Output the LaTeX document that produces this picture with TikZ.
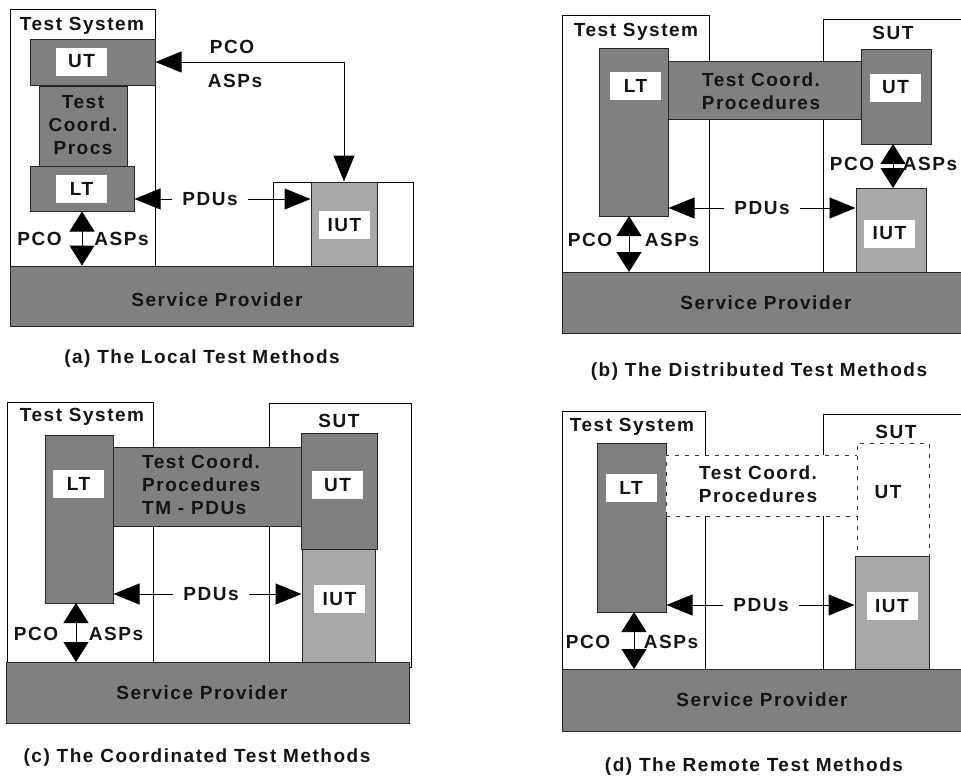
\documentclass[tikz,border=0pt]{standalone}
\usepackage{fontspec}
\setmainfont{Liberation Sans}[LetterSpace=8]
\usetikzlibrary{arrows.meta,fit,calc}
\definecolor{dkg}{HTML}{808080}
\definecolor{ltg}{HTML}{A8A8A8}
\begin{document}
\begin{tikzpicture}[x=1pt,y=-1pt,
 every node/.style={font=\fontsize{19pt}{23pt}\selectfont\bfseries, text=black!92},
 frame/.style={draw=black, line width=1pt, fill=white, inner sep=0pt},
 dk/.style={draw=black!85, line width=1pt, fill=dkg, inner sep=0pt},
 lgt/.style={draw=black!85, line width=1pt, fill=ltg, inner sep=0pt},
 dsh/.style={draw=black!80, line width=1pt, dash pattern=on 4pt off 6pt, fill=white, inner sep=0pt},
 tag/.style={fill=white, minimum width=51pt, minimum height=28pt, inner sep=0pt},
 txt/.style={inner sep=0pt},
 pdu/.style={inner xsep=10pt, inner ysep=0pt},
 tri/.style={line width=1pt, -{Triangle[length=26pt,width=21pt]}},
 tritwo/.style={line width=1pt, {Triangle[length=26pt,width=21pt]}-{Triangle[length=26pt,width=21pt]}},
 pco/.style={line width=1pt, {Triangle[length=20pt,width=25pt]}-{Triangle[length=20pt,width=25pt]}},
]
\useasboundingbox (0,0) rectangle (961,779);
\clip (0,0) rectangle (961,779);

% ================= (a) =================
\node[frame, fit={(10,9) (155,266)}] (tsa) {};
\node[frame, fit={(273,182) (413,266)}] (suta) {};
\node[dk, fit={(30,39) (155,85)}] (uta) {};
\node[dk, fit={(39,86) (127,166)}] (tcpa) {};
\node[dk, fit={(30,166) (134,211)}] (lta) {};
\node[lgt, fit={(311,182) (377,266)}] (iuta) {};
\node[dk, fit={(10,266) (413,326)}] (spa) {};
\node[txt] (tsat) at (82,26) {Test System};
\node[tag] (utat) at (81.5,61.5) {UT};
\node[txt, align=center] (tcpat) at (83,125) {Test\\Coord.\\Procs};
\node[tag] (ltat) at (81.5,188.5) {LT};
\node[tag] (iutat) at (344.5,225) {IUT};
\node[txt] (spat) at (217,300) {Service Provider};
\node[txt] (pcoa1) at (39.5,239) {PCO};
\node[txt] (aspa1) at (121.5,239) {ASPs};
\node[txt] (pcoa2) at (232,47) {PCO};
\node[txt] (aspa2) at (235,81) {ASPs};
\node[pdu] (pdua) at (210,199) {PDUs};
\draw[tri] (pdua.west) -- (pdua.west -| lta.east);
\draw[tri] (pdua.east) -- (pdua.east -| iuta.west);
\draw[tritwo] (uta.east) -| (iuta.north);
\draw[pco] (lta.south) -- (lta.south |- spa.north);
\node[txt] (capa) at (202,359) {(a) The Local Test Methods};

% ================= (b) =================
\node[frame, fit={(562,15) (709,272)}] (tsb) {};
\node[frame, fit={(823,19) (975,272)}] (sutb) {};
\node[dk, fit={(599,48) (668,216)}] (ltb) {};
\node[dk, fit={(668,61) (861,119)}] (tcpb) {};
\node[dk, fit={(861,49) (931,144)}] (utb) {};
\node[lgt, fit={(856,188) (926,272)}] (iutb) {};
\node[dk, fit={(562,272) (975,333)}] (spb) {};
\node[txt] (tsbt) at (636,32) {Test System};
\node[txt] (sutbt) at (893,33) {SUT};
\node[tag] (ltbt) at (635.5,86) {LT};
\node[txt, align=center] (tcpbt) at (761,91.5) {Test Coord.\\Procedures};
\node[tag] (utbt) at (895.5,87.5) {UT};
\node[tag] (iutbt) at (889.5,233.5) {IUT};
\node[txt] (spbt) at (766,303) {Service Provider};
\node[txt] (pcob1) at (590,240) {PCO};
\node[txt] (aspb1) at (672,240) {ASPs};
\node[txt] (pcob2) at (852,164) {PCO};
\node[txt] (aspb2) at (930,164) {ASPs};
\node[pdu] (pdub) at (762,208) {PDUs};
\draw[tri] (pdub.west) -- (pdub.west -| ltb.east);
\draw[tri] (pdub.east) -- (pdub.east -| iutb.west);
\draw[pco] (629,216) -- (629,272);
\draw[pco] (893,144) -- (893,188);
\node[txt] (capb) at (759,372) {(b) The Distributed Test Methods};

% ================= (c) =================
\node[frame, fit={(7,402) (153,662)}] (tsc) {};
\node[frame, fit={(269,403) (411,667)}] (sutc) {};
\node[dk, fit={(45,435) (113,603)}] (ltc) {};
\node[dk, fit={(113,447) (301,526)}] (tcpc) {};
\node[dk, fit={(301,433) (377,549)}] (utc) {};
\node[lgt, fit={(302,549) (375,662)}] (iutc) {};
\node[dk, fit={(6,662) (409,723)}] (spc) {};
\node[txt] (tsct) at (82,417) {Test System};
\node[txt] (sutct) at (339,421) {SUT};
\node[tag] (ltct) at (78.5,483.5) {LT};
\node[txt, align=left, anchor=west] (tcpct) at (142,485) {Test Coord.\\Procedures\\TM - PDUs};
\node[tag] (utct) at (337.5,485) {UT};
\node[tag] (iutct) at (339.5,599) {IUT};
\node[txt] (spct) at (202,693) {Service Provider};
\node[txt] (pcoc) at (36,634) {PCO};
\node[txt] (aspc) at (116,634) {ASPs};
\node[pdu] (pduc) at (211,594) {PDUs};
\draw[tri] (pduc.west) -- (pduc.west -| ltc.east);
\draw[tri] (pduc.east) -- (pduc.east -| iutc.west);
\draw[pco] (76,603) -- (76,662);
\node[txt] (capc) at (197,758) {(c) The Coordinated Test Methods};

% ================= (d) =================
\node[frame, fit={(562,411) (705,669)}] (tsd) {};
\node[frame, fit={(823,414) (975,669)}] (sutd) {};
\node[dk, fit={(597,443) (666,612)}] (ltd) {};
\node[dsh, fit={(666,455) (857,516)}] (tcpd) {};
\node[dsh, fit={(857,443) (929,556)}] (utd) {};
\node[lgt, fit={(855,556) (929,671)}] (iutd) {};
\node[dk, fit={(562,669) (975,731)}] (spd) {};
\node[txt] (tsdt) at (632,427) {Test System};
\node[txt] (sutdt) at (896,432) {SUT};
\node[tag] (ltdt) at (631,487.5) {LT};
\node[txt, align=center] (tcpdt) at (758,484.5) {Test Coord.\\Procedures};
\node[txt] (utdt) at (888,492) {UT};
\node[tag] (iutdt) at (892,606) {IUT};
\node[txt] (spdt) at (762,700) {Service Provider};
\node[txt] (pcod) at (588,642) {PCO};
\node[txt] (aspd) at (671,642) {ASPs};
\node[pdu] (pdud) at (761,605) {PDUs};
\draw[tri] (pdud.west) -- (pdud.west -| ltd.east);
\draw[tri] (pdud.east) -- (pdud.east -| iutd.west);
\draw[pco] (634,612) -- (634,669);
\node[txt] (capd) at (754,767) {(d) The Remote Test Methods};
\end{tikzpicture}
\end{document}
